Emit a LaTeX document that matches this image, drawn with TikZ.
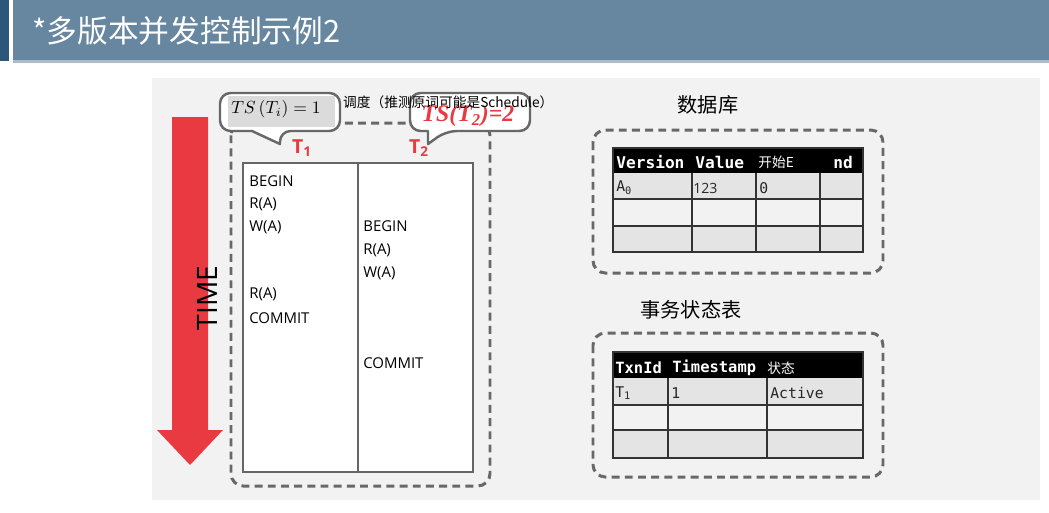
\documentclass[tikz,border=0pt]{standalone}
\usepackage{fontspec}
\setmainfont{Open Sans}
\setmonofont{DejaVu Sans Mono}
\newfontfamily\cjk{Noto Sans CJK SC}
\newfontfamily\tsfont{Liberation Serif}
\usetikzlibrary{positioning}
\definecolor{barblue}{HTML}{6787A0}
\definecolor{bardark}{HTML}{2C5779}
\definecolor{barline}{HTML}{A9BDCC}
\definecolor{timered}{HTML}{E83A40}
\definecolor{dashgray}{HTML}{686868}
\definecolor{rowgray}{HTML}{E4E4E4}
\tikzset{
  op/.style={anchor=west, font=\fontsize{8.5}{10}\selectfont, inner sep=0pt},
  heading/.style={font=\cjk\fontsize{11.5}{13}\selectfont},
  groupbox/.style={draw=dashgray, line width=1.7pt, dash pattern=on 4.5pt off 3pt, rounded corners=7pt},
  callout/.style={draw=dashgray, fill=white, line width=1.4pt, line join=round},
  tlabel/.style={text=timered, font=\bfseries\fontsize{11}{12}\selectfont},
  hd/.style={anchor=west, text=white, inner sep=0pt, font=\ttfamily\bfseries\fontsize{9.2}{10}\selectfont},
  cell/.style={anchor=west, inner sep=0pt, text=black!85, font=\ttfamily\fontsize{8.4}{10}\selectfont},
  grid/.style={draw=black!80, line width=0.6pt}
}
\begin{document}
\begin{tikzpicture}[x=0.02cm, y=-0.02cm]
\useasboundingbox (0,0) rectangle (1049,512);
% title bar
\fill[bardark] (0,0) rectangle (9,61);
\fill[barblue] (13,0) rectangle (1049,60);
\fill[barline] (13,60) rectangle (1049,63);
\node[anchor=west, text=white, font=\cjk\fontsize{17.5}{20}\selectfont] (title) at (26,31) {*多版本并发控制示例2};
\fill[black!5] (152,78) rectangle (1040,500);
% time arrow
\fill[timered] (172,117) -- (208,117) -- (208,430) -- (223,430) -- (190,465) -- (157,430) -- (172,430) -- cycle;
\node[rotate=90, font=\fontsize{16}{18}\selectfont] (time) at (207,298) {TIME};
% schedule
\draw[groupbox] (231,123) rectangle (490,486);
\draw[callout, rounded corners=6pt] (220,93) -- (340,93) -- (340,131) -- (280,131) [sharp corners] -- (280,144) -- (252,131) [rounded corners=6pt] -- (220,131) -- cycle;
\fill[black!14] (228,96) rectangle (335,127);
\node (ts1) at (276,109) {$TS\,(T_i) = 1$};
\draw[callout, rounded corners=6pt] (410,93) -- (530,93) -- (530,131) -- (446,131) [sharp corners] -- (428,144) -- (428,131) [rounded corners=6pt] -- (410,131) -- cycle;
\node[text=timered, font=\tsfont\bfseries\itshape\fontsize{13.5}{15}\selectfont] (ts2) at (468,116) {TS(T\textsubscript{2})=2};
\node[anchor=west, font=\cjk\fontsize{7.8}{9}\selectfont] (sched) at (337,102) {调度（推测原词可能是Schedule）};
\node[tlabel] (t1) at (302,148) {T\textsubscript{1}};
\node[tlabel] (t2) at (419,148) {T\textsubscript{2}};
\draw[fill=white, draw=black!60, line width=0.6pt] (243,163) rectangle (473,472);
\draw[black!60, line width=0.6pt] (358,163) -- (358,472);
\node[op] (a1) at (249,181) {BEGIN};
\node[op] (a2) at (249,204) {R(A)};
\node[op] (a3) at (249,227) {W(A)};
\node[op] (a4) at (249,294) {R(A)};
\node[op] (a5) at (249,318) {COMMIT};
\node[op] (b1) at (363,226) {BEGIN};
\node[op] (b2) at (363,250) {R(A)};
\node[op] (b3) at (363,273) {W(A)};
\node[op] (b4) at (363,363) {COMMIT};
% database
\node[heading] (dbtitle) at (708,105) {数据库};
\draw[groupbox] (593,130) rectangle (883,273);
\fill[black] (613,148) rectangle (863,173);
\fill[rowgray] (613,173) rectangle (863,199);
\fill[rowgray] (613,226) rectangle (863,252);
\draw[grid] (613,148) rectangle (863,252);
\draw[grid] (613,199) -- (863,199) (613,226) -- (863,226);
\draw[grid] (692,173) -- (692,252) (756,173) -- (756,252) (820,173) -- (820,252);
\node[hd] (ver) at (616,162) {Version};
\node[hd] (val) at (695,162) {Value};
\node[hd, font=\cjk\fontsize{7.8}{9}\selectfont] (beg) at (758,162) {开始E};
\node[hd] (end) at (833,162) {nd};
\node[cell] (a0) at (616,188) {A\textsubscript{0}};
\node[cell, font=\fontsize{8}{9}\selectfont] (v0) at (693,188) {123};
\node[cell] (s0) at (759,188) {0};
% transaction status
\node[heading] (txtitle) at (691,310) {事务状态表};
\draw[groupbox] (593,333) rectangle (883,477);
\fill[black] (613,352) rectangle (863,378);
\fill[rowgray] (613,378) rectangle (863,405);
\fill[rowgray] (613,430) rectangle (863,458);
\draw[grid] (613,352) rectangle (863,458);
\draw[grid] (613,405) -- (863,405) (613,430) -- (863,430);
\draw[grid] (668,378) -- (668,458) (767,378) -- (767,458);
\node[hd, font=\ttfamily\bfseries\fontsize{8.8}{10}\selectfont] (tid) at (615,368) {TxnId};
\node[hd, font=\ttfamily\bfseries\fontsize{8.8}{10}\selectfont] (tst) at (672,368) {Timestamp};
\node[hd, font=\cjk\fontsize{7.8}{9}\selectfont] (st) at (767,368) {状态};
\node[cell] (r1) at (615,393) {T\textsubscript{1}};
\node[cell] (r2) at (671,393) {1};
\node[cell] (r3) at (770,393) {Active};
\end{tikzpicture}
\end{document}
